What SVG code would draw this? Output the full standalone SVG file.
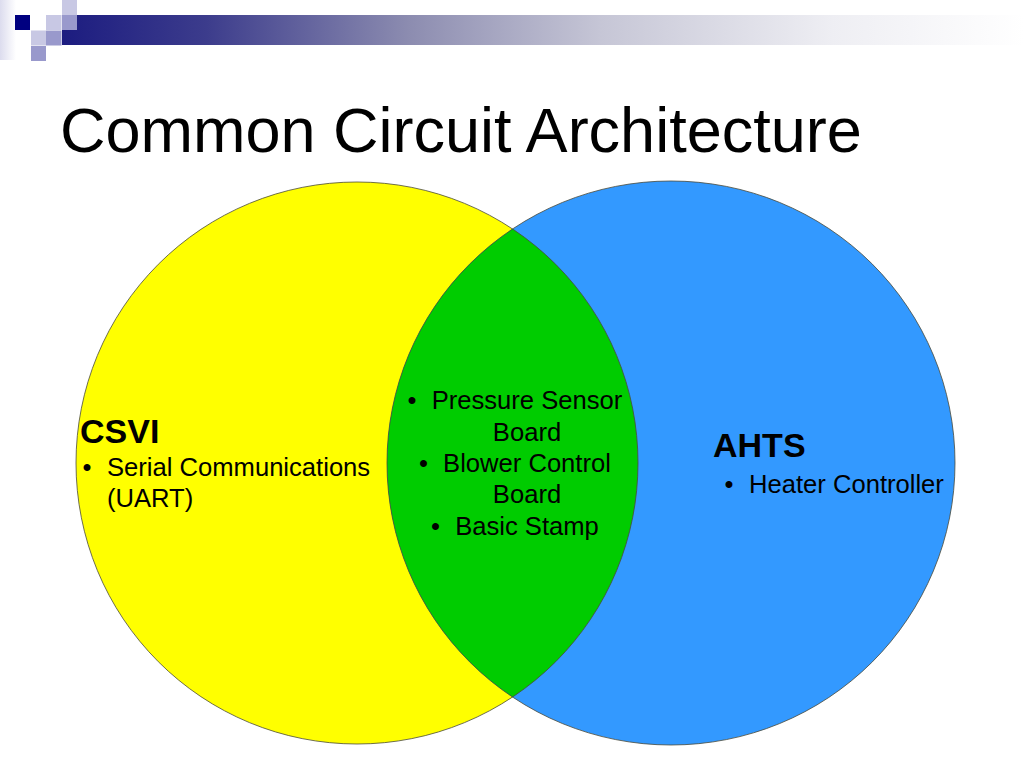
<svg xmlns="http://www.w3.org/2000/svg" width="1024" height="768" viewBox="0 0 1024 768">
  <defs>
    <linearGradient id="barGrad" gradientUnits="userSpaceOnUse" x1="62" y1="0" x2="1024" y2="0">
      <stop offset="0" stop-color="#1c1c80"/>
      <stop offset="0.15" stop-color="#3c3c8c"/>
      <stop offset="0.36" stop-color="#8c8cb0"/>
      <stop offset="0.56" stop-color="#c6c6d6"/>
      <stop offset="0.8" stop-color="#eeeef3"/>
      <stop offset="1" stop-color="#ffffff"/>
    </linearGradient>
    <linearGradient id="sideGrad" x1="0" y1="0" x2="1" y2="0">
      <stop offset="0" stop-color="#dcdcee"/>
      <stop offset="1" stop-color="#ffffff"/>
    </linearGradient>
    <clipPath id="yellowClip">
      <ellipse cx="357" cy="463" rx="281" ry="281"/>
    </clipPath>
  </defs>
  <style>
    text { font-family: "Liberation Sans", Arial, sans-serif; fill: #000; }
    .title { font-size: 63px; }
    .head { font-size: 34px; font-weight: bold; }
    .item { font-size: 25.6px; }
    .mid { text-anchor: middle; }
    .outline { fill: none; stroke: #4a4a3a; stroke-width: 0.8; }
    .light { fill: #c8c8e4; }
    .medium { fill: #9999cc; }
  </style>
  <rect width="1024" height="768" fill="#ffffff"/>

  <g id="decoration">
    <rect x="0" y="0" width="16" height="60" fill="url(#sideGrad)"/>
    <rect x="62" y="15" width="962" height="30" fill="url(#barGrad)"/>
    <rect x="15" y="15" width="15" height="15" fill="#000080"/>
    <rect class="light" x="62" y="0" width="15" height="15"/>
    <rect class="light" x="46" y="15" width="15.5" height="15"/>
    <rect class="medium" x="62" y="15" width="15" height="15"/>
    <rect class="light" x="31" y="30.5" width="15" height="15"/>
    <rect class="medium" x="46" y="30.5" width="15.5" height="15"/>
    <rect class="medium" x="31" y="46" width="15" height="15"/>
  </g>

  <text id="title" class="title" x="60" y="152">Common Circuit Architecture</text>

  <g id="csvi">
    <ellipse cx="357" cy="463" rx="281" ry="281" fill="#ffff00"/>
  </g>
  <g id="ahts">
    <ellipse cx="671" cy="463" rx="284" ry="282" fill="#3399ff"/>
  </g>
  <g id="common">
    <ellipse cx="671" cy="463" rx="284" ry="282" fill="#00cc00" clip-path="url(#yellowClip)"/>
  </g>
  <g id="outlines">
    <ellipse class="outline" cx="357" cy="463" rx="281" ry="281"/>
    <ellipse class="outline" cx="671" cy="463" rx="284" ry="282"/>
  </g>
  <g id="connectors"/>

  <g id="csvi-text">
    <text class="head" x="80" y="443">CSVI</text>
    <text class="item" x="82.5" y="476">•</text>
    <text class="item" x="107" y="476">Serial Communications</text>
    <text class="item" x="107" y="507">(UART)</text>
  </g>

  <g id="common-text">
    <text class="item" x="407.5" y="409">•</text>
    <text class="item mid" x="527" y="409">Pressure Sensor</text>
    <text class="item mid" x="527" y="441">Board</text>
    <text class="item" x="419" y="472">•</text>
    <text class="item mid" x="527" y="472">Blower Control</text>
    <text class="item mid" x="527" y="503">Board</text>
    <text class="item" x="431" y="535">•</text>
    <text class="item mid" x="527" y="535">Basic Stamp</text>
  </g>

  <g id="ahts-text">
    <text class="head" x="713" y="457">AHTS</text>
    <text class="item" x="724.5" y="493">•</text>
    <text class="item" x="749" y="493">Heater Controller</text>
  </g>
</svg>
